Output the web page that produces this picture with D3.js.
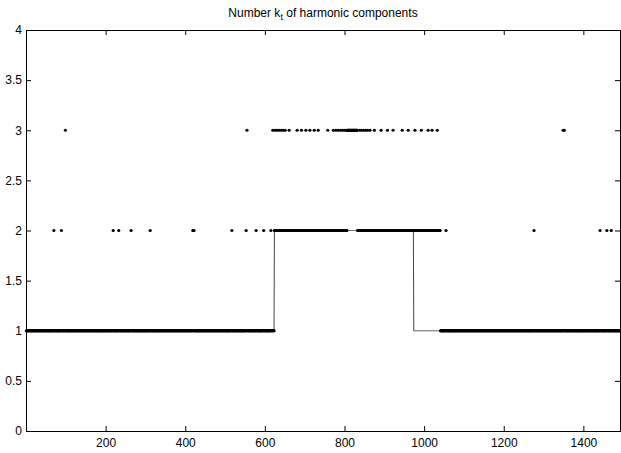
<!DOCTYPE html>
<html>
<head>
<meta charset="utf-8">
<script src="https://cdn.jsdelivr.net/npm/d3@7"></script>
<style>
  html, body { margin: 0; padding: 0; background: #fff; }
  svg { display: block; font-family: "Liberation Sans", Arial, Helvetica, sans-serif; }
</style>
</head>
<body>
<svg id="chart" width="621" height="453"></svg>
<script>
// ---- data ----
const nSteps = 1492;
const xTicks = [200, 400, 600, 800, 1000, 1200, 1400];
const yTicks = [0, 0.5, 1, 1.5, 2, 2.5, 3, 3.5, 4];
// true number of components: [start, end, k]
const trueSegments = [[1, 623, 1], [624, 973, 2], [974, nSteps, 1]];
// estimated k_t baseline runs: [start, end, k]
const estSegments = [[1, 623, 1], [624, 806, 2], [807, 832, 3], [833, 1040, 2], [1041, nSteps, 1]];
// isolated estimates at k = 2
const outliers2 = [70, 89, 219, 233, 264, 312, 419, 422, 517, 553, 578, 597, 615, 1055, 1276, 1442, 1459, 1470];
// isolated estimates at k = 3
const outliers3 = [99, 555, 620, 626, 631, 636, 641, 646, 651, 661, 681, 692, 703, 713, 724, 734,
  758, 772, 778, 784, 790, 795, 800, 804, 838, 843, 848, 853, 858, 864,
  875, 892, 908, 922, 945, 960, 977, 993, 1010, 1020, 1033, 1349, 1352];

// ---- build series from the runs above ----
function expand(segs) {
  const out = [];
  segs.forEach(([a, b, k]) => { for (let t = a; t <= b; t++) out.push({ t, k }); });
  return out;
}
const truth = expand(trueSegments);
const est = expand(estSegments);
const estMap = new Map(est.map(d => [d.t, d]));
outliers2.forEach(t => { estMap.get(t).k = 2; });
outliers3.forEach(t => { estMap.get(t).k = 3; });

// ---- layout ----
const svg = d3.select("#chart");
const L = 26, R = 620, T = 30, B = 431;
const x = d3.scaleLinear().domain([0, nSteps]).range([L, R]);
const y = d3.scaleLinear().domain([0, 4]).range([B, T]);

// truth line
svg.append("path")
  .datum(truth)
  .attr("fill", "none")
  .attr("stroke", "#444")
  .attr("stroke-width", 1)
  .attr("d", d3.line().x(d => x(d.t)).y(d => y(d.k)));

// estimates as dots
svg.append("g")
  .selectAll("circle")
  .data(est)
  .join("circle")
  .attr("cx", d => x(d.t))
  .attr("cy", d => y(d.k))
  .attr("r", 1.6)
  .attr("fill", "#000");

// axes (ticks inward, mirrored)
const fs = "12px";
const fmt = d3.format("~g");
const gB = svg.append("g").attr("transform", `translate(0,${B})`)
  .call(d3.axisBottom(x).tickValues(xTicks).tickSize(-5).tickPadding(7).tickFormat(fmt));
const gL = svg.append("g").attr("transform", `translate(${L},0)`)
  .call(d3.axisLeft(y).tickValues(yTicks).tickSize(-5).tickPadding(4).tickFormat(fmt));
const gT = svg.append("g").attr("transform", `translate(0,${T})`)
  .call(d3.axisTop(x).tickValues(xTicks).tickSize(-5).tickFormat(""));
const gR = svg.append("g").attr("transform", `translate(${R},0)`)
  .call(d3.axisRight(y).tickValues(yTicks).tickSize(-5).tickFormat(""));
[gB, gL, gT, gR].forEach(g => {
  g.selectAll("path.domain").attr("stroke", "#000").attr("stroke-width", 1);
  g.selectAll("line").attr("stroke", "#000");
  g.selectAll("text").attr("fill", "#000").style("font-size", fs)
    .style("font-family", "'Liberation Sans', Arial, sans-serif");
});

// title
const title = svg.append("text")
  .attr("x", (L + R) / 2)
  .attr("y", 17)
  .attr("text-anchor", "middle")
  .style("font-size", "12px")
  .attr("fill", "#000");
title.append("tspan").text("Number k");
title.append("tspan").attr("dy", 3).style("font-size", "9px").text("t");
title.append("tspan").attr("dy", -3).text(" of harmonic components");
</script>
</body>
</html>
